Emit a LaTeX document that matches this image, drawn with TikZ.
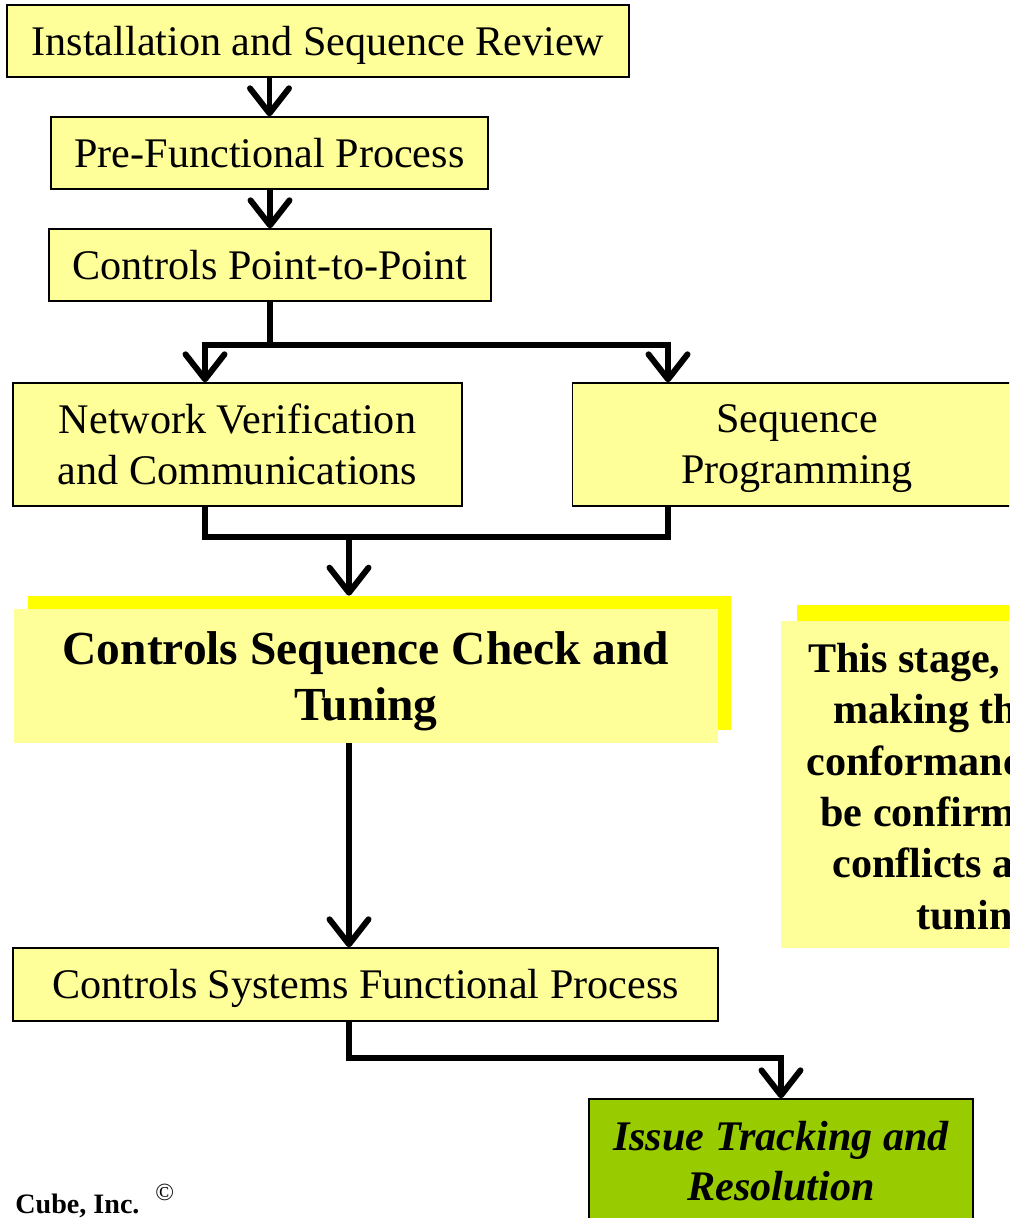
\documentclass[tikz,border=0pt]{standalone}
\usepackage{fontspec}
\setmainfont{Liberation Serif}
\usetikzlibrary{arrows.meta}
\definecolor{paleyellow}{HTML}{FFFF99}
\definecolor{brightyellow}{HTML}{FFFF00}
\definecolor{leafgreen}{HTML}{99CC00}
\tikzset{
  stagebox/.style={draw=black,line width=0.8pt,fill=paleyellow,inner sep=0pt,align=center,font=\fontsize{24}{29}\selectfont},
  oneline/.style={text height=21.4pt,text depth=5.2pt},
  twoline/.style={text depth=0pt},
  softbox/.style={fill=paleyellow,inner sep=0pt,align=center},
  shadebox/.style={fill=brightyellow,inner sep=0pt},
  notetext/.style={anchor=base west,inner sep=0pt,font=\bfseries\fontsize{24}{29}\selectfont},
  wire/.style={line width=3.4pt},
  flowarrow/.style={wire,-{Straight Barb[length=0.5cm,width=0.78cm,round]}},
}
\begin{document}
\begin{tikzpicture}[x=0.02cm,y=-0.02cm]
   \useasboundingbox (0,0) rectangle (1009,1218);
   \clip (0,0) rectangle (1009,1218);
   \node[stagebox,oneline,minimum width=12.44cm,minimum height=1.44cm] (install) at (318,41) {Installation and Sequence Review};
   \node[stagebox,oneline,minimum width=8.74cm,minimum height=1.44cm] (prefun) at (269.5,153) {Pre-Functional Process};
   \node[stagebox,oneline,minimum width=8.84cm,minimum height=1.44cm] (ptp) at (270,265) {Controls Point-to-Point};
   \node[stagebox,twoline,minimum width=8.98cm,minimum height=2.46cm] (netver) at (237.5,444.5) {Network Verification\\and Communications};
   \node[stagebox,twoline,minimum width=8.98cm,minimum height=2.46cm] (seqprog) at (797,444.5) {Sequence\\Programming};
   \node[shadebox,minimum width=14.06cm,minimum height=2.68cm] (checkglow) at (379.5,663) {};
   \node[softbox,text depth=-3pt,minimum width=14.08cm,minimum height=2.68cm,font=\bfseries\fontsize{27}{32.3}\selectfont] (check) at (366,676) {Controls Sequence Check and\\Tuning};
   \node[shadebox,anchor=north west,minimum width=6.4cm,minimum height=6.54cm] (noteglow) at (797,605) {};
   \node[softbox,anchor=north west,minimum width=6.4cm,minimum height=6.54cm] (note) at (781,621) {};
   \foreach \x/\y/\t [count=\i] in {808/672/{This stage,},833/723/{making th},806/775/{conformanc},820/826/{be confirm},832/877/{conflicts a},916/929/{tunin}}
     \node[notetext] (note\i) at (\x,\y) {\t};
   \node[stagebox,oneline,minimum width=14.1cm,minimum height=1.46cm] (funcproc) at (365.5,984.5) {Controls Systems Functional Process};
   \node[stagebox,twoline,fill=leafgreen,minimum width=7.68cm,minimum height=2.46cm,font=\bfseries\itshape\fontsize{24}{28.4}\selectfont] (issue) at (781,1160.5) {Issue Tracking and\\Resolution};
   \node[anchor=base west,inner sep=0pt,font=\bfseries\fontsize{16}{19}\selectfont] (owner) at (15,1213) {Cube, Inc.};
   \node[anchor=base west,inner sep=0pt,font=\fontsize{14}{16}\selectfont] (copy) at (155,1200) {©};

   \coordinate (jL) at (205,345);
   \coordinate (jR) at (668,345);
   \coordinate (mL) at (205,537);
   \coordinate (mR) at (668,537);
   \coordinate (mC) at (349,537);
   \draw[flowarrow] (install.south -| prefun.north) -- (prefun.north);
   \draw[flowarrow] (prefun.south -| ptp.north) -- (ptp.north);
   \draw[wire] (ptp.south) -- (ptp.south |- jL);
   \draw[flowarrow] (jR) -- (jL) -- (jL |- netver.north);
   \draw[flowarrow] (jL) -- (jR) -- (jR |- seqprog.north);
   \draw[wire] (mL |- netver.south) -- (mL) -- (mR) -- (mR |- seqprog.south);
   \draw[flowarrow] (mC) -- (mC |- checkglow.north);
   \draw[flowarrow] (check.south -| mC) -- (mC |- funcproc.north);
   \draw[flowarrow] (funcproc.south -| mC) -- ++(0,36) -| (issue.north);
  \end{tikzpicture}
\end{document}
